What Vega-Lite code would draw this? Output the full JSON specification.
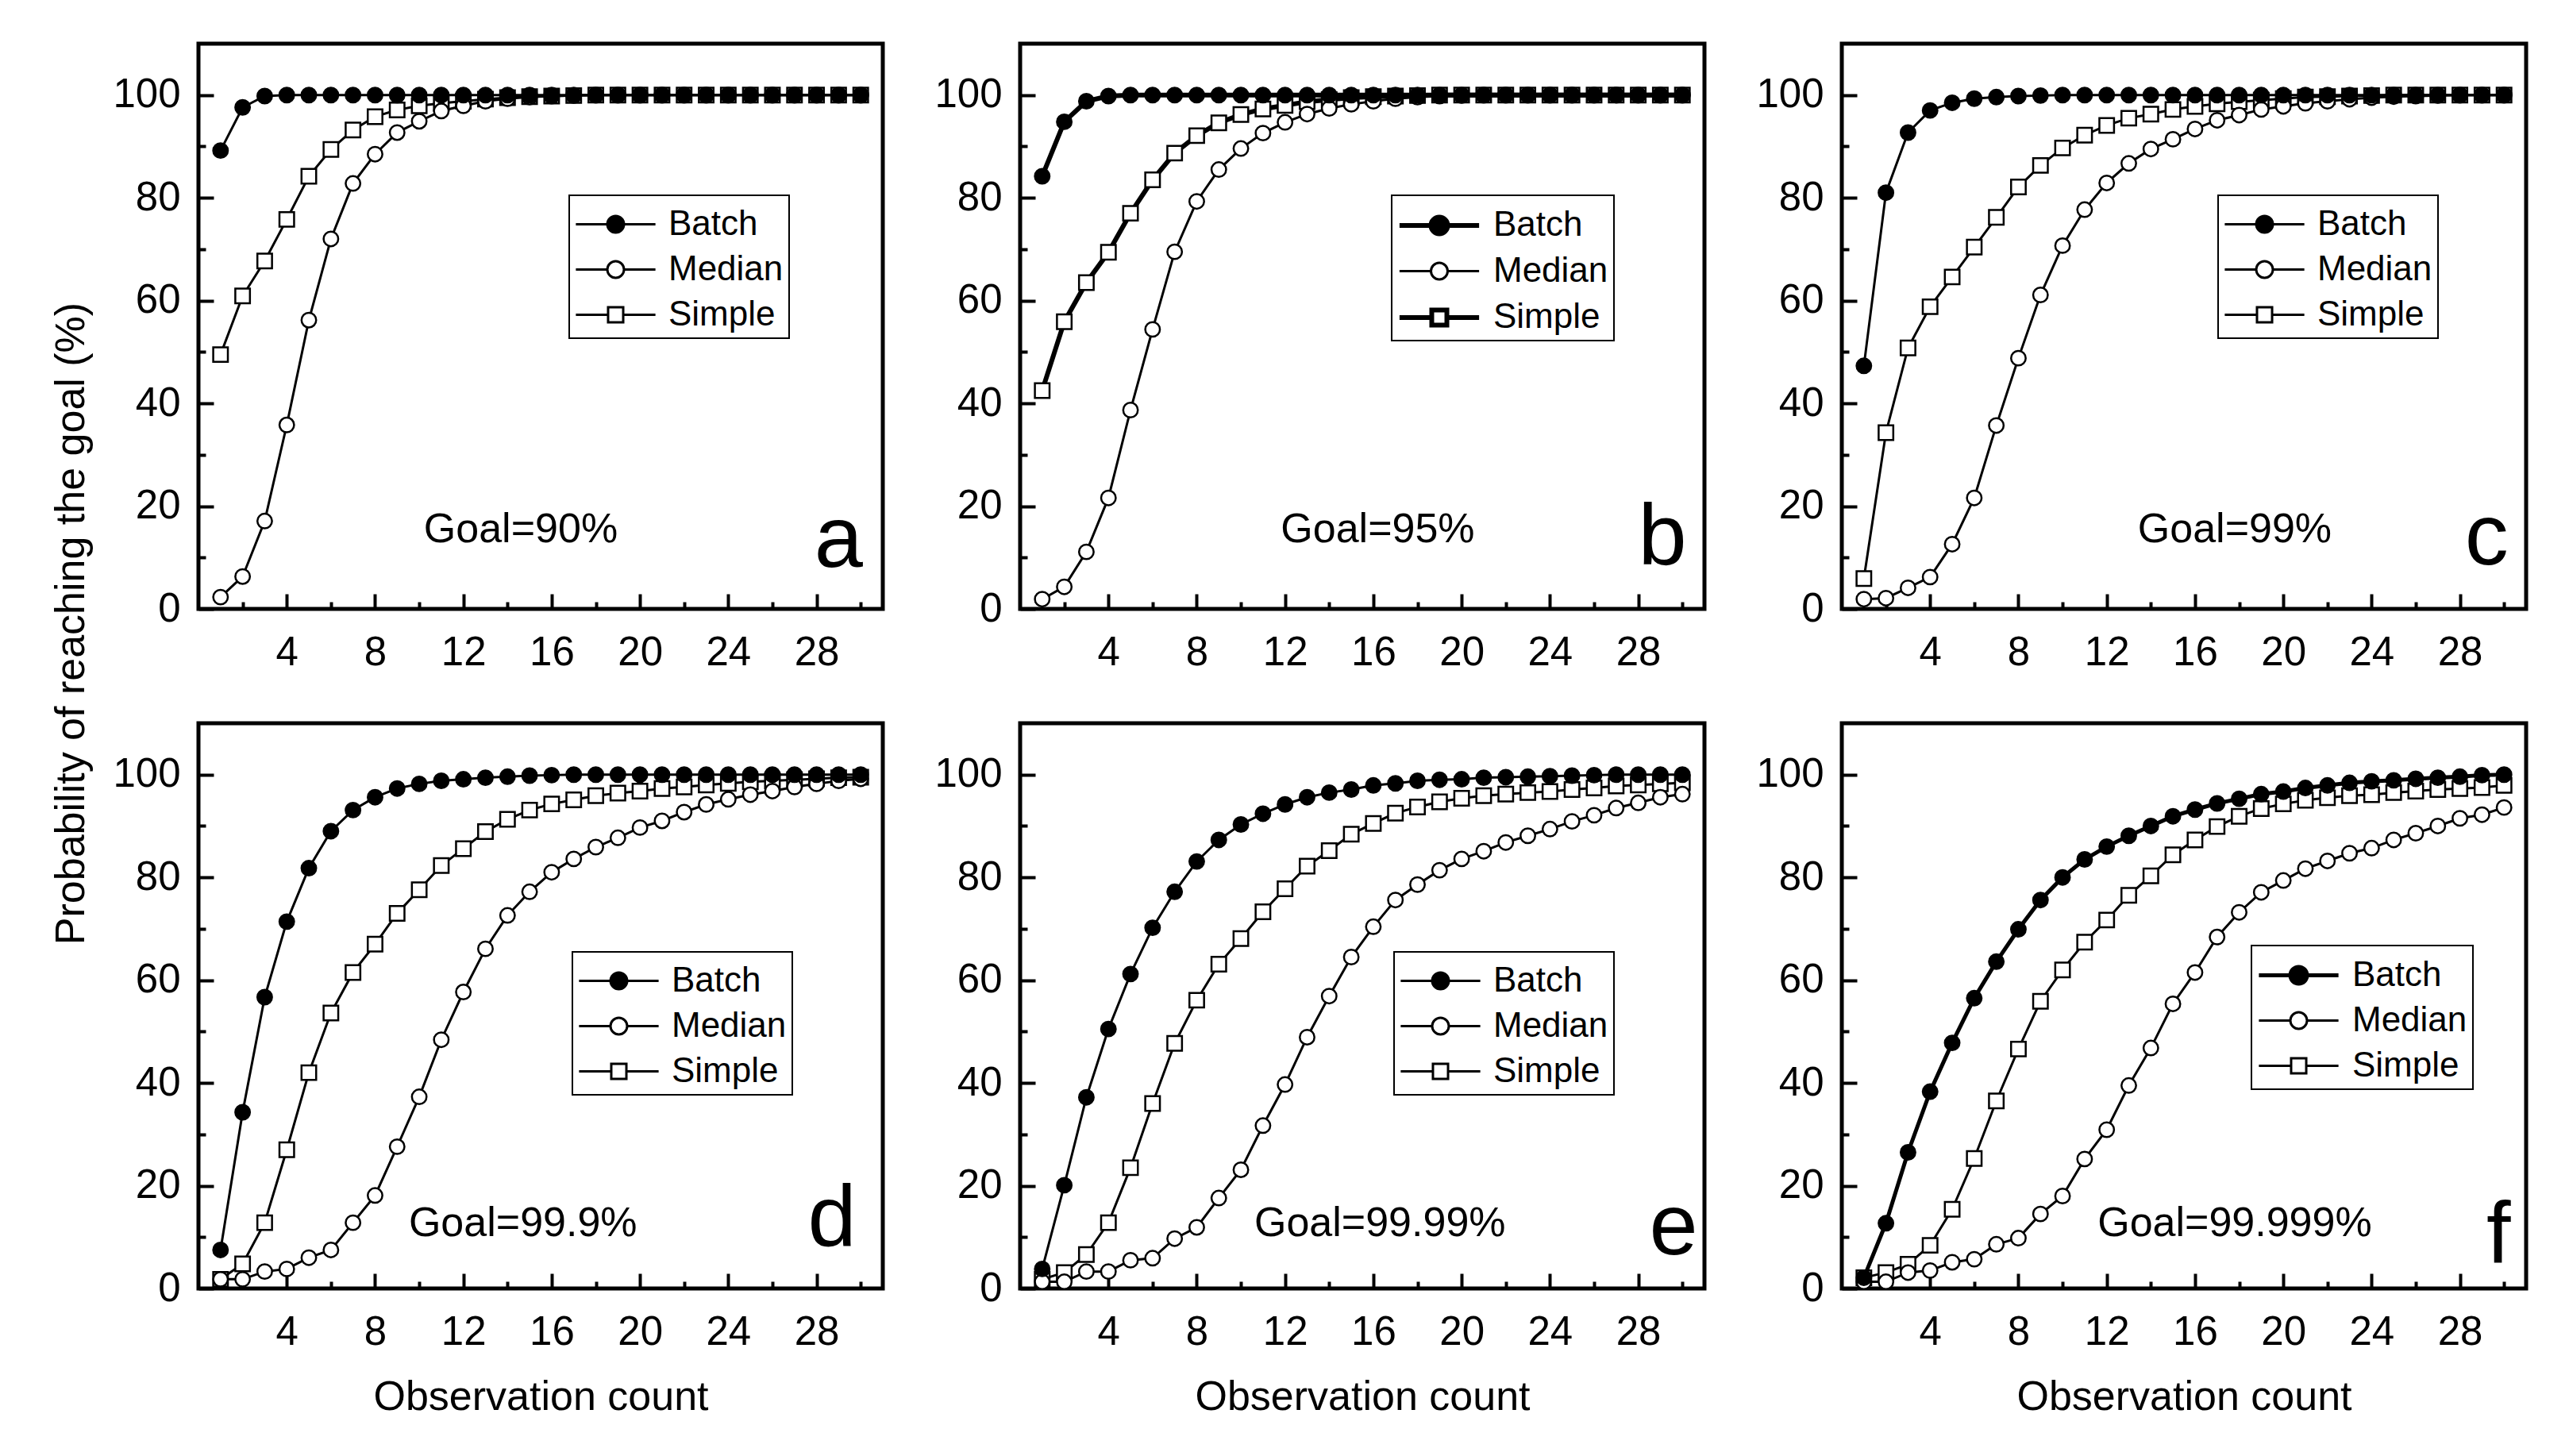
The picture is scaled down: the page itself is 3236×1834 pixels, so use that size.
{
"$schema": "https://vega.github.io/schema/vega-lite/v6.json",
"background": "white",
"padding": {"left": 60, "top": 52, "right": 0, "bottom": 0},
"datasets": {
"meta": [
{"panel":"a","goal":"Goal=90%"},{"panel":"b","goal":"Goal=95%"},{"panel":"c","goal":"Goal=99%"},
{"panel":"d","goal":"Goal=99.9%"},{"panel":"e","goal":"Goal=99.99%"},{"panel":"f","goal":"Goal=99.999%"}
],
"curves": [
{"panel":"a","n":1,"Batch":89.2,"Median":2.3,"Simple":49.5},
{"panel":"a","n":2,"Batch":97.6,"Median":6.3,"Simple":60.9},
{"panel":"a","n":3,"Batch":99.8,"Median":17.1,"Simple":67.7},
{"panel":"a","n":4,"Batch":100,"Median":35.8,"Simple":75.8},
{"panel":"a","n":5,"Batch":100,"Median":56.2,"Simple":84.2},
{"panel":"a","n":6,"Batch":100,"Median":72.0,"Simple":89.4},
{"panel":"a","n":7,"Batch":100,"Median":82.8,"Simple":93.2},
{"panel":"a","n":8,"Batch":100,"Median":88.5,"Simple":95.8},
{"panel":"a","n":9,"Batch":100,"Median":92.7,"Simple":97.1},
{"panel":"a","n":10,"Batch":100,"Median":94.9,"Simple":97.9},
{"panel":"a","n":11,"Batch":100,"Median":96.9,"Simple":98.4},
{"panel":"a","n":12,"Batch":100,"Median":97.9,"Simple":98.8},
{"panel":"a","n":13,"Batch":100,"Median":98.8,"Simple":99.2},
{"panel":"a","n":14,"Batch":100,"Median":99.3,"Simple":99.5},
{"panel":"a","n":15,"Batch":100,"Median":99.6,"Simple":99.7},
{"panel":"a","n":16,"Batch":100,"Median":99.8,"Simple":99.8},
{"panel":"a","n":17,"Batch":100,"Median":99.9,"Simple":99.9},
{"panel":"a","n":18,"Batch":100,"Median":100,"Simple":100},
{"panel":"a","n":19,"Batch":100,"Median":100,"Simple":100},
{"panel":"a","n":20,"Batch":100,"Median":100,"Simple":100},
{"panel":"a","n":21,"Batch":100,"Median":100,"Simple":100},
{"panel":"a","n":22,"Batch":100,"Median":100,"Simple":100},
{"panel":"a","n":23,"Batch":100,"Median":100,"Simple":100},
{"panel":"a","n":24,"Batch":100,"Median":100,"Simple":100},
{"panel":"a","n":25,"Batch":100,"Median":100,"Simple":100},
{"panel":"a","n":26,"Batch":100,"Median":100,"Simple":100},
{"panel":"a","n":27,"Batch":100,"Median":100,"Simple":100},
{"panel":"a","n":28,"Batch":100,"Median":100,"Simple":100},
{"panel":"a","n":29,"Batch":100,"Median":100,"Simple":100},
{"panel":"a","n":30,"Batch":100,"Median":100,"Simple":100},
{"panel":"b","n":1,"Batch":84.2,"Median":1.9,"Simple":42.5},
{"panel":"b","n":2,"Batch":94.8,"Median":4.3,"Simple":55.9},
{"panel":"b","n":3,"Batch":98.8,"Median":11.1,"Simple":63.5},
{"panel":"b","n":4,"Batch":99.8,"Median":21.6,"Simple":69.4},
{"panel":"b","n":5,"Batch":100,"Median":38.7,"Simple":77.0},
{"panel":"b","n":6,"Batch":100,"Median":54.4,"Simple":83.5},
{"panel":"b","n":7,"Batch":100,"Median":69.5,"Simple":88.7},
{"panel":"b","n":8,"Batch":100,"Median":79.3,"Simple":92.1},
{"panel":"b","n":9,"Batch":100,"Median":85.5,"Simple":94.6},
{"panel":"b","n":10,"Batch":100,"Median":89.6,"Simple":96.2},
{"panel":"b","n":11,"Batch":100,"Median":92.6,"Simple":97.3},
{"panel":"b","n":12,"Batch":100,"Median":94.7,"Simple":98.0},
{"panel":"b","n":13,"Batch":100,"Median":96.3,"Simple":98.7},
{"panel":"b","n":14,"Batch":100,"Median":97.4,"Simple":99.1},
{"panel":"b","n":15,"Batch":100,"Median":98.2,"Simple":99.5},
{"panel":"b","n":16,"Batch":100,"Median":98.8,"Simple":99.7},
{"panel":"b","n":17,"Batch":100,"Median":99.3,"Simple":99.8},
{"panel":"b","n":18,"Batch":100,"Median":99.6,"Simple":99.9},
{"panel":"b","n":19,"Batch":100,"Median":99.8,"Simple":100},
{"panel":"b","n":20,"Batch":100,"Median":99.9,"Simple":100},
{"panel":"b","n":21,"Batch":100,"Median":100,"Simple":100},
{"panel":"b","n":22,"Batch":100,"Median":100,"Simple":100},
{"panel":"b","n":23,"Batch":100,"Median":100,"Simple":100},
{"panel":"b","n":24,"Batch":100,"Median":100,"Simple":100},
{"panel":"b","n":25,"Batch":100,"Median":100,"Simple":100},
{"panel":"b","n":26,"Batch":100,"Median":100,"Simple":100},
{"panel":"b","n":27,"Batch":100,"Median":100,"Simple":100},
{"panel":"b","n":28,"Batch":100,"Median":100,"Simple":100},
{"panel":"b","n":29,"Batch":100,"Median":100,"Simple":100},
{"panel":"b","n":30,"Batch":100,"Median":100,"Simple":100},
{"panel":"c","n":1,"Batch":47.3,"Median":1.9,"Simple":5.9},
{"panel":"c","n":2,"Batch":81.0,"Median":2.1,"Simple":34.3},
{"panel":"c","n":3,"Batch":92.7,"Median":4.1,"Simple":50.8},
{"panel":"c","n":4,"Batch":97.0,"Median":6.2,"Simple":58.8},
{"panel":"c","n":5,"Batch":98.5,"Median":12.6,"Simple":64.6},
{"panel":"c","n":6,"Batch":99.3,"Median":21.6,"Simple":70.4},
{"panel":"c","n":7,"Batch":99.6,"Median":35.7,"Simple":76.2},
{"panel":"c","n":8,"Batch":99.8,"Median":48.8,"Simple":82.1},
{"panel":"c","n":9,"Batch":99.9,"Median":61.1,"Simple":86.3},
{"panel":"c","n":10,"Batch":100,"Median":70.7,"Simple":89.7},
{"panel":"c","n":11,"Batch":100,"Median":77.7,"Simple":92.2},
{"panel":"c","n":12,"Batch":100,"Median":82.9,"Simple":94.1},
{"panel":"c","n":13,"Batch":100,"Median":86.7,"Simple":95.5},
{"panel":"c","n":14,"Batch":100,"Median":89.5,"Simple":96.3},
{"panel":"c","n":15,"Batch":100,"Median":91.4,"Simple":97.2},
{"panel":"c","n":16,"Batch":100,"Median":93.4,"Simple":97.8},
{"panel":"c","n":17,"Batch":100,"Median":95.1,"Simple":98.3},
{"panel":"c","n":18,"Batch":100,"Median":96.1,"Simple":98.7},
{"panel":"c","n":19,"Batch":100,"Median":97.2,"Simple":99.0},
{"panel":"c","n":20,"Batch":100,"Median":97.8,"Simple":99.3},
{"panel":"c","n":21,"Batch":100,"Median":98.4,"Simple":99.6},
{"panel":"c","n":22,"Batch":100,"Median":98.8,"Simple":99.7},
{"panel":"c","n":23,"Batch":100,"Median":99.2,"Simple":99.8},
{"panel":"c","n":24,"Batch":100,"Median":99.5,"Simple":99.9},
{"panel":"c","n":25,"Batch":100,"Median":99.7,"Simple":100},
{"panel":"c","n":26,"Batch":100,"Median":99.8,"Simple":100},
{"panel":"c","n":27,"Batch":100,"Median":99.9,"Simple":100},
{"panel":"c","n":28,"Batch":100,"Median":100,"Simple":100},
{"panel":"c","n":29,"Batch":100,"Median":100,"Simple":100},
{"panel":"c","n":30,"Batch":100,"Median":100,"Simple":100},
{"panel":"d","n":1,"Batch":7.5,"Median":1.8,"Simple":1.8},
{"panel":"d","n":2,"Batch":34.3,"Median":1.8,"Simple":4.8},
{"panel":"d","n":3,"Batch":56.7,"Median":3.3,"Simple":12.8},
{"panel":"d","n":4,"Batch":71.4,"Median":3.8,"Simple":27.0},
{"panel":"d","n":5,"Batch":81.8,"Median":6.0,"Simple":42.0},
{"panel":"d","n":6,"Batch":89.0,"Median":7.5,"Simple":53.6},
{"panel":"d","n":7,"Batch":93.1,"Median":12.8,"Simple":61.5},
{"panel":"d","n":8,"Batch":95.6,"Median":18.1,"Simple":67.0},
{"panel":"d","n":9,"Batch":97.3,"Median":27.6,"Simple":73.0},
{"panel":"d","n":10,"Batch":98.2,"Median":37.3,"Simple":77.6},
{"panel":"d","n":11,"Batch":98.8,"Median":48.4,"Simple":82.3},
{"panel":"d","n":12,"Batch":99.1,"Median":57.7,"Simple":85.6},
{"panel":"d","n":13,"Batch":99.4,"Median":66.1,"Simple":88.9},
{"panel":"d","n":14,"Batch":99.6,"Median":72.6,"Simple":91.3},
{"panel":"d","n":15,"Batch":99.8,"Median":77.2,"Simple":93.1},
{"panel":"d","n":16,"Batch":99.9,"Median":81.0,"Simple":94.3},
{"panel":"d","n":17,"Batch":100,"Median":83.6,"Simple":95.1},
{"panel":"d","n":18,"Batch":100,"Median":85.9,"Simple":95.9},
{"panel":"d","n":19,"Batch":100,"Median":87.7,"Simple":96.4},
{"panel":"d","n":20,"Batch":100,"Median":89.7,"Simple":96.8},
{"panel":"d","n":21,"Batch":100,"Median":91.0,"Simple":97.3},
{"panel":"d","n":22,"Batch":100,"Median":92.7,"Simple":97.6},
{"panel":"d","n":23,"Batch":100,"Median":94.2,"Simple":98.0},
{"panel":"d","n":24,"Batch":100,"Median":95.2,"Simple":98.3},
{"panel":"d","n":25,"Batch":100,"Median":96.1,"Simple":98.6},
{"panel":"d","n":26,"Batch":100,"Median":96.8,"Simple":98.8},
{"panel":"d","n":27,"Batch":100,"Median":97.6,"Simple":99.0},
{"panel":"d","n":28,"Batch":100,"Median":98.2,"Simple":99.2},
{"panel":"d","n":29,"Batch":100,"Median":98.8,"Simple":99.4},
{"panel":"d","n":30,"Batch":100,"Median":99.2,"Simple":99.5},
{"panel":"e","n":1,"Batch":3.8,"Median":1.3,"Simple":1.8},
{"panel":"e","n":2,"Batch":20.1,"Median":1.3,"Simple":3.1},
{"panel":"e","n":3,"Batch":37.2,"Median":3.3,"Simple":6.6},
{"panel":"e","n":4,"Batch":50.5,"Median":3.3,"Simple":12.8},
{"panel":"e","n":5,"Batch":61.2,"Median":5.5,"Simple":23.5},
{"panel":"e","n":6,"Batch":70.2,"Median":5.9,"Simple":36.0},
{"panel":"e","n":7,"Batch":77.2,"Median":9.7,"Simple":47.7},
{"panel":"e","n":8,"Batch":83.1,"Median":11.9,"Simple":56.1},
{"panel":"e","n":9,"Batch":87.3,"Median":17.6,"Simple":63.1},
{"panel":"e","n":10,"Batch":90.3,"Median":23.1,"Simple":68.1},
{"panel":"e","n":11,"Batch":92.4,"Median":31.7,"Simple":73.3},
{"panel":"e","n":12,"Batch":94.2,"Median":39.7,"Simple":77.8},
{"panel":"e","n":13,"Batch":95.6,"Median":48.9,"Simple":82.2},
{"panel":"e","n":14,"Batch":96.5,"Median":56.9,"Simple":85.2},
{"panel":"e","n":15,"Batch":97.1,"Median":64.5,"Simple":88.4},
{"panel":"e","n":16,"Batch":97.9,"Median":70.4,"Simple":90.5},
{"panel":"e","n":17,"Batch":98.3,"Median":75.6,"Simple":92.5},
{"panel":"e","n":18,"Batch":98.8,"Median":78.6,"Simple":93.7},
{"panel":"e","n":19,"Batch":99.0,"Median":81.4,"Simple":94.7},
{"panel":"e","n":20,"Batch":99.1,"Median":83.6,"Simple":95.4},
{"panel":"e","n":21,"Batch":99.4,"Median":85.1,"Simple":95.9},
{"panel":"e","n":22,"Batch":99.5,"Median":86.8,"Simple":96.2},
{"panel":"e","n":23,"Batch":99.6,"Median":88.1,"Simple":96.5},
{"panel":"e","n":24,"Batch":99.7,"Median":89.4,"Simple":96.7},
{"panel":"e","n":25,"Batch":99.8,"Median":90.9,"Simple":97.1},
{"panel":"e","n":26,"Batch":99.9,"Median":92.1,"Simple":97.4},
{"panel":"e","n":27,"Batch":100,"Median":93.5,"Simple":97.8},
{"panel":"e","n":28,"Batch":100,"Median":94.5,"Simple":98.0},
{"panel":"e","n":29,"Batch":100,"Median":95.6,"Simple":98.2},
{"panel":"e","n":30,"Batch":100,"Median":96.2,"Simple":98.4},
{"panel":"f","n":1,"Batch":2.1,"Median":1.3,"Simple":2.1},
{"panel":"f","n":2,"Batch":12.7,"Median":1.3,"Simple":3.1},
{"panel":"f","n":3,"Batch":26.5,"Median":3.1,"Simple":4.7},
{"panel":"f","n":4,"Batch":38.3,"Median":3.5,"Simple":8.4},
{"panel":"f","n":5,"Batch":47.8,"Median":5.1,"Simple":15.4},
{"panel":"f","n":6,"Batch":56.5,"Median":5.7,"Simple":25.3},
{"panel":"f","n":7,"Batch":63.6,"Median":8.6,"Simple":36.5},
{"panel":"f","n":8,"Batch":69.9,"Median":9.8,"Simple":46.6},
{"panel":"f","n":9,"Batch":75.6,"Median":14.5,"Simple":55.9},
{"panel":"f","n":10,"Batch":80.0,"Median":18.0,"Simple":62.0},
{"panel":"f","n":11,"Batch":83.5,"Median":25.2,"Simple":67.4},
{"panel":"f","n":12,"Batch":86.0,"Median":30.9,"Simple":71.7},
{"panel":"f","n":13,"Batch":88.1,"Median":39.5,"Simple":76.5},
{"panel":"f","n":14,"Batch":90.0,"Median":46.8,"Simple":80.3},
{"panel":"f","n":15,"Batch":91.9,"Median":55.4,"Simple":84.4},
{"panel":"f","n":16,"Batch":93.2,"Median":61.5,"Simple":87.3},
{"panel":"f","n":17,"Batch":94.4,"Median":68.4,"Simple":89.9},
{"panel":"f","n":18,"Batch":95.3,"Median":73.2,"Simple":91.9},
{"panel":"f","n":19,"Batch":96.2,"Median":77.1,"Simple":93.4},
{"panel":"f","n":20,"Batch":96.7,"Median":79.4,"Simple":94.3},
{"panel":"f","n":21,"Batch":97.4,"Median":81.7,"Simple":95.0},
{"panel":"f","n":22,"Batch":97.9,"Median":83.2,"Simple":95.5},
{"panel":"f","n":23,"Batch":98.4,"Median":84.7,"Simple":95.9},
{"panel":"f","n":24,"Batch":98.7,"Median":85.7,"Simple":96.1},
{"panel":"f","n":25,"Batch":98.9,"Median":87.3,"Simple":96.5},
{"panel":"f","n":26,"Batch":99.2,"Median":88.6,"Simple":96.8},
{"panel":"f","n":27,"Batch":99.4,"Median":90.0,"Simple":97.1},
{"panel":"f","n":28,"Batch":99.6,"Median":91.5,"Simple":97.3},
{"panel":"f","n":29,"Batch":99.9,"Median":92.2,"Simple":97.5},
{"panel":"f","n":30,"Batch":100,"Median":93.6,"Simple":97.9}
]
},
"columns": 3,
"spacing": {"row": 144, "column": 173},
"bounds": "flush",
"resolve": {"scale": {"shape": "independent", "fill": "independent", "stroke": "independent", "strokeWidth": "independent"}, "legend": {"shape": "independent", "fill": "independent", "stroke": "independent", "strokeWidth": "independent"}},
"concat": [
{
"width": 862, "height": 712,
"resolve": {"axis": {"x": "independent", "y": "independent"}, "scale": {"shape": "independent", "fill": "independent", "stroke": "independent"}},
"layer": [
{"data": {"name": "curves"}, "transform": [{"filter": "datum.panel === 'a' && datum.n === 1"}, {"fold": ["Batch","Median","Simple"], "as": ["series","p"]}],
 "mark": {"type": "point", "filled": true, "opacity": 0, "strokeWidth": 3},
 "encoding": {
  "x": {"field": "n", "type": "quantitative", "axis": null},
  "y": {"field": "p", "type": "quantitative", "axis": null},
  "shape": {"field": "series", "type": "nominal", "scale": {"domain": ["Batch","Median","Simple"], "range": ["M-1.79,0H-0.375M0.375,0H1.79M-0.375,0A0.375,0.375,0,1,1,0.375,0A0.375,0.375,0,1,1,-0.375,0Z", "M-1.79,0H-0.375M0.375,0H1.79M-0.375,0A0.375,0.375,0,1,1,0.375,0A0.375,0.375,0,1,1,-0.375,0Z", "M-1.79,0H-0.34M0.34,0H1.79M-0.34,-0.34H0.34V0.34H-0.34Z"]},
   "legend": {"orient": "none", "legendX": 467, "legendY": 191, "title": null, "symbolSize": 3136, "symbolStrokeWidth": 3, "symbolOffset": 22, "labelOffset": 37, "padding": 7, "rowPadding": 5, "fillColor": "white", "strokeColor": "black", "symbolOpacity": 1}},
  "fill": {"field": "series", "type": "nominal", "scale": {"domain": ["Batch","Median","Simple"], "range": ["black","white","white"]},
   "legend": {"orient": "none", "legendX": 467, "legendY": 191, "title": null, "symbolSize": 3136, "symbolStrokeWidth": 3, "symbolOffset": 22, "labelOffset": 37, "padding": 7, "rowPadding": 5, "fillColor": "white", "strokeColor": "black", "symbolOpacity": 1}},
  "stroke": {"field": "series", "type": "nominal", "scale": {"domain": ["Batch","Median","Simple"], "range": ["black","black","black"]},
   "legend": {"orient": "none", "legendX": 467, "legendY": 191, "title": null, "symbolSize": 3136, "symbolStrokeWidth": 3, "symbolOffset": 22, "labelOffset": 37, "padding": 7, "rowPadding": 5, "fillColor": "white", "strokeColor": "black", "symbolOpacity": 1}}}},
{"data": {"name": "curves"}, "transform": [{"filter": "datum.panel === 'a'"}, {"fold": ["Batch","Median","Simple"], "as": ["series","p"]}],
 "mark": {"type": "line", "color": "black", "strokeWidth": 3},
 "encoding": {
  "x": {"field": "n", "type": "quantitative", "scale": {"domain": [0,31], "nice": false, "zero": false}, "axis": {"orient": "bottom", "values": [4,8,12,16,20,24,28], "tickSize": -19, "labelPadding": 49, "title": null}},
  "y": {"field": "p", "type": "quantitative", "scale": {"domain": [0,110], "nice": false}, "axis": {"orient": "left", "values": [0,20,40,60,80,100], "tickSize": -19, "labelPadding": 42, "title": "Probability of reaching the goal (%)", "titleAngle": 270, "titleX": -145, "titleY": 730, "titleAlign": "center", "titleBaseline": "alphabetic"}},
  "detail": {"field": "series"}}},
{"data": {"name": "curves"}, "transform": [{"filter": "datum.panel === 'a'"}, {"fold": ["Batch","Median","Simple"], "as": ["series","p"]}],
 "mark": {"type": "point", "filled": true, "size": 340, "stroke": "black", "strokeWidth": 2.5, "opacity": 1},
 "encoding": {
  "x": {"field": "n", "type": "quantitative", "axis": {"orient": "bottom", "values": [2,6,10,14,18,22,26,30], "tickSize": -9, "labels": false, "title": null}},
  "y": {"field": "p", "type": "quantitative", "axis": {"orient": "left", "values": [10,30,50,70,90], "tickSize": -9, "labels": false, "title": null}},
  "shape": {"field": "series", "type": "nominal", "scale": {"domain": ["Batch","Median","Simple"], "range": ["circle","circle","square"]}, "legend": null},
  "fill": {"field": "series", "type": "nominal", "scale": {"domain": ["Batch","Median","Simple"], "range": ["black","white","white"]}, "legend": null},
  "order": {"field": "series", "sort": "descending"}}},
{"data": {"name": "meta"}, "transform": [{"filter": "datum.panel === 'a'"}],
 "mark": {"type": "text", "fontSize": 52, "align": "center", "baseline": "middle", "color": "black"},
 "encoding": {"x": {"datum": 14.6, "type": "quantitative", "axis": null}, "y": {"datum": 15.5, "type": "quantitative", "axis": null}, "text": {"field": "goal"}}},
{"data": {"name": "meta"}, "transform": [{"filter": "datum.panel === 'a'"}],
 "mark": {"type": "text", "fontSize": 110, "align": "right", "baseline": "alphabetic", "color": "black"},
 "encoding": {"x": {"datum": 30.1, "type": "quantitative", "axis": null}, "y": {"datum": 8.2, "type": "quantitative", "axis": null}, "text": {"field": "panel"}}}
]
},
{
"width": 862, "height": 712,
"resolve": {"axis": {"x": "independent", "y": "independent"}, "scale": {"shape": "independent", "fill": "independent", "stroke": "independent", "strokeWidth": "independent"}},
"layer": [
{"data": {"name": "curves"}, "transform": [{"filter": "datum.panel === 'b' && datum.n === 1"}, {"fold": ["Batch","Median","Simple"], "as": ["series","p"]}],
 "mark": {"type": "point", "filled": true, "opacity": 0, "strokeWidth": 3},
 "encoding": {
  "x": {"field": "n", "type": "quantitative", "axis": null},
  "y": {"field": "p", "type": "quantitative", "axis": null},
  "shape": {"field": "series", "type": "nominal", "scale": {"domain": ["Batch","Median","Simple"], "range": ["M-1.79,0H-0.375M0.375,0H1.79M-0.375,0A0.375,0.375,0,1,1,0.375,0A0.375,0.375,0,1,1,-0.375,0Z", "M-1.79,0H-0.375M0.375,0H1.79M-0.375,0A0.375,0.375,0,1,1,0.375,0A0.375,0.375,0,1,1,-0.375,0Z", "M-1.79,0H-0.34M0.34,0H1.79M-0.34,-0.34H0.34V0.34H-0.34Z"]},
   "legend": {"orient": "none", "legendX": 468, "legendY": 191, "title": null, "symbolSize": 3136, "symbolStrokeWidth": 3, "symbolOffset": 22, "labelOffset": 37, "padding": 7, "rowPadding": 5, "fillColor": "white", "strokeColor": "black", "symbolOpacity": 1}},
  "fill": {"field": "series", "type": "nominal", "scale": {"domain": ["Batch","Median","Simple"], "range": ["black","white","white"]},
   "legend": {"orient": "none", "legendX": 468, "legendY": 191, "title": null, "symbolSize": 3136, "symbolStrokeWidth": 3, "symbolOffset": 22, "labelOffset": 37, "padding": 7, "rowPadding": 5, "fillColor": "white", "strokeColor": "black", "symbolOpacity": 1}},
  "stroke": {"field": "series", "type": "nominal", "scale": {"domain": ["Batch","Median","Simple"], "range": ["black","black","black"]},
   "legend": {"orient": "none", "legendX": 468, "legendY": 191, "title": null, "symbolSize": 3136, "symbolStrokeWidth": 3, "symbolOffset": 22, "labelOffset": 37, "padding": 7, "rowPadding": 5, "fillColor": "white", "strokeColor": "black", "symbolOpacity": 1}},
  "strokeWidth": {"field": "series", "type": "nominal", "scale": {"type": "ordinal", "domain": ["Batch","Median","Simple"], "range": [6,3,6]},
   "legend": {"orient": "none", "legendX": 468, "legendY": 191, "title": null, "symbolSize": 3136, "symbolOffset": 22, "labelOffset": 37, "padding": 7, "rowPadding": 5, "fillColor": "white", "strokeColor": "black", "symbolOpacity": 1}}}},
{"data": {"name": "curves"}, "transform": [{"filter": "datum.panel === 'b'"}, {"fold": ["Batch","Median","Simple"], "as": ["series","p"]}],
 "mark": {"type": "line", "color": "black"},
 "encoding": {
  "x": {"field": "n", "type": "quantitative", "scale": {"domain": [0,31], "nice": false, "zero": false}, "axis": {"orient": "bottom", "values": [4,8,12,16,20,24,28], "tickSize": -19, "labelPadding": 49, "title": null}},
  "y": {"field": "p", "type": "quantitative", "scale": {"domain": [0,110], "nice": false}, "axis": {"orient": "left", "values": [0,20,40,60,80,100], "tickSize": -19, "labelPadding": 42, "title": null}},
  "strokeWidth": {"condition": {"test": "datum.series !== 'Median'", "value": 6}, "value": 3},
  "detail": {"field": "series"}}},
{"data": {"name": "curves"}, "transform": [{"filter": "datum.panel === 'b'"}, {"fold": ["Batch","Median","Simple"], "as": ["series","p"]}],
 "mark": {"type": "point", "filled": true, "size": 340, "stroke": "black", "strokeWidth": 2.5, "opacity": 1},
 "encoding": {
  "x": {"field": "n", "type": "quantitative", "axis": {"orient": "bottom", "values": [2,6,10,14,18,22,26,30], "tickSize": -9, "labels": false, "title": null}},
  "y": {"field": "p", "type": "quantitative", "axis": {"orient": "left", "values": [10,30,50,70,90], "tickSize": -9, "labels": false, "title": null}},
  "shape": {"field": "series", "type": "nominal", "scale": {"domain": ["Batch","Median","Simple"], "range": ["circle","circle","square"]}, "legend": null},
  "fill": {"field": "series", "type": "nominal", "scale": {"domain": ["Batch","Median","Simple"], "range": ["black","white","white"]}, "legend": null},
  "order": {"field": "series", "sort": "descending"}}},
{"data": {"name": "meta"}, "transform": [{"filter": "datum.panel === 'b'"}],
 "mark": {"type": "text", "fontSize": 52, "align": "center", "baseline": "middle", "color": "black"},
 "encoding": {"x": {"datum": 16.2, "type": "quantitative", "axis": null}, "y": {"datum": 15.5, "type": "quantitative", "axis": null}, "text": {"field": "goal"}}},
{"data": {"name": "meta"}, "transform": [{"filter": "datum.panel === 'b'"}],
 "mark": {"type": "text", "fontSize": 110, "align": "right", "baseline": "alphabetic", "color": "black"},
 "encoding": {"x": {"datum": 30.2, "type": "quantitative", "axis": null}, "y": {"datum": 8.6, "type": "quantitative", "axis": null}, "text": {"field": "panel"}}}
]
},
{
"width": 862, "height": 712,
"resolve": {"axis": {"x": "independent", "y": "independent"}, "scale": {"shape": "independent", "fill": "independent", "stroke": "independent"}},
"layer": [
{"data": {"name": "curves"}, "transform": [{"filter": "datum.panel === 'c' && datum.n === 1"}, {"fold": ["Batch","Median","Simple"], "as": ["series","p"]}],
 "mark": {"type": "point", "filled": true, "opacity": 0, "strokeWidth": 3},
 "encoding": {
  "x": {"field": "n", "type": "quantitative", "axis": null},
  "y": {"field": "p", "type": "quantitative", "axis": null},
  "shape": {"field": "series", "type": "nominal", "scale": {"domain": ["Batch","Median","Simple"], "range": ["M-1.79,0H-0.375M0.375,0H1.79M-0.375,0A0.375,0.375,0,1,1,0.375,0A0.375,0.375,0,1,1,-0.375,0Z", "M-1.79,0H-0.375M0.375,0H1.79M-0.375,0A0.375,0.375,0,1,1,0.375,0A0.375,0.375,0,1,1,-0.375,0Z", "M-1.79,0H-0.34M0.34,0H1.79M-0.34,-0.34H0.34V0.34H-0.34Z"]},
   "legend": {"orient": "none", "legendX": 474, "legendY": 191, "title": null, "symbolSize": 3136, "symbolStrokeWidth": 3, "symbolOffset": 22, "labelOffset": 37, "padding": 7, "rowPadding": 5, "fillColor": "white", "strokeColor": "black", "symbolOpacity": 1}},
  "fill": {"field": "series", "type": "nominal", "scale": {"domain": ["Batch","Median","Simple"], "range": ["black","white","white"]},
   "legend": {"orient": "none", "legendX": 474, "legendY": 191, "title": null, "symbolSize": 3136, "symbolStrokeWidth": 3, "symbolOffset": 22, "labelOffset": 37, "padding": 7, "rowPadding": 5, "fillColor": "white", "strokeColor": "black", "symbolOpacity": 1}},
  "stroke": {"field": "series", "type": "nominal", "scale": {"domain": ["Batch","Median","Simple"], "range": ["black","black","black"]},
   "legend": {"orient": "none", "legendX": 474, "legendY": 191, "title": null, "symbolSize": 3136, "symbolStrokeWidth": 3, "symbolOffset": 22, "labelOffset": 37, "padding": 7, "rowPadding": 5, "fillColor": "white", "strokeColor": "black", "symbolOpacity": 1}}}},
{"data": {"name": "curves"}, "transform": [{"filter": "datum.panel === 'c'"}, {"fold": ["Batch","Median","Simple"], "as": ["series","p"]}],
 "mark": {"type": "line", "color": "black", "strokeWidth": 3},
 "encoding": {
  "x": {"field": "n", "type": "quantitative", "scale": {"domain": [0,31], "nice": false, "zero": false}, "axis": {"orient": "bottom", "values": [4,8,12,16,20,24,28], "tickSize": -19, "labelPadding": 49, "title": null}},
  "y": {"field": "p", "type": "quantitative", "scale": {"domain": [0,110], "nice": false}, "axis": {"orient": "left", "values": [0,20,40,60,80,100], "tickSize": -19, "labelPadding": 42, "title": null}},
  "detail": {"field": "series"}}},
{"data": {"name": "curves"}, "transform": [{"filter": "datum.panel === 'c'"}, {"fold": ["Batch","Median","Simple"], "as": ["series","p"]}],
 "mark": {"type": "point", "filled": true, "size": 340, "stroke": "black", "strokeWidth": 2.5, "opacity": 1},
 "encoding": {
  "x": {"field": "n", "type": "quantitative", "axis": {"orient": "bottom", "values": [2,6,10,14,18,22,26,30], "tickSize": -9, "labels": false, "title": null}},
  "y": {"field": "p", "type": "quantitative", "axis": {"orient": "left", "values": [10,30,50,70,90], "tickSize": -9, "labels": false, "title": null}},
  "shape": {"field": "series", "type": "nominal", "scale": {"domain": ["Batch","Median","Simple"], "range": ["circle","circle","square"]}, "legend": null},
  "fill": {"field": "series", "type": "nominal", "scale": {"domain": ["Batch","Median","Simple"], "range": ["black","white","white"]}, "legend": null},
  "order": {"field": "series", "sort": "descending"}}},
{"data": {"name": "meta"}, "transform": [{"filter": "datum.panel === 'c'"}],
 "mark": {"type": "text", "fontSize": 52, "align": "center", "baseline": "middle", "color": "black"},
 "encoding": {"x": {"datum": 17.8, "type": "quantitative", "axis": null}, "y": {"datum": 15.5, "type": "quantitative", "axis": null}, "text": {"field": "goal"}}},
{"data": {"name": "meta"}, "transform": [{"filter": "datum.panel === 'c'"}],
 "mark": {"type": "text", "fontSize": 110, "align": "right", "baseline": "alphabetic", "color": "black"},
 "encoding": {"x": {"datum": 30.2, "type": "quantitative", "axis": null}, "y": {"datum": 8.6, "type": "quantitative", "axis": null}, "text": {"field": "panel"}}}
]
},
{
"width": 862, "height": 712,
"resolve": {"axis": {"x": "independent", "y": "independent"}, "scale": {"shape": "independent", "fill": "independent", "stroke": "independent"}},
"layer": [
{"data": {"name": "curves"}, "transform": [{"filter": "datum.panel === 'd' && datum.n === 1"}, {"fold": ["Batch","Median","Simple"], "as": ["series","p"]}],
 "mark": {"type": "point", "filled": true, "opacity": 0, "strokeWidth": 3},
 "encoding": {
  "x": {"field": "n", "type": "quantitative", "axis": null},
  "y": {"field": "p", "type": "quantitative", "axis": null},
  "shape": {"field": "series", "type": "nominal", "scale": {"domain": ["Batch","Median","Simple"], "range": ["M-1.79,0H-0.375M0.375,0H1.79M-0.375,0A0.375,0.375,0,1,1,0.375,0A0.375,0.375,0,1,1,-0.375,0Z", "M-1.79,0H-0.375M0.375,0H1.79M-0.375,0A0.375,0.375,0,1,1,0.375,0A0.375,0.375,0,1,1,-0.375,0Z", "M-1.79,0H-0.34M0.34,0H1.79M-0.34,-0.34H0.34V0.34H-0.34Z"]},
   "legend": {"orient": "none", "legendX": 471, "legendY": 288, "title": null, "symbolSize": 3136, "symbolStrokeWidth": 3, "symbolOffset": 22, "labelOffset": 37, "padding": 7, "rowPadding": 5, "fillColor": "white", "strokeColor": "black", "symbolOpacity": 1}},
  "fill": {"field": "series", "type": "nominal", "scale": {"domain": ["Batch","Median","Simple"], "range": ["black","white","white"]},
   "legend": {"orient": "none", "legendX": 471, "legendY": 288, "title": null, "symbolSize": 3136, "symbolStrokeWidth": 3, "symbolOffset": 22, "labelOffset": 37, "padding": 7, "rowPadding": 5, "fillColor": "white", "strokeColor": "black", "symbolOpacity": 1}},
  "stroke": {"field": "series", "type": "nominal", "scale": {"domain": ["Batch","Median","Simple"], "range": ["black","black","black"]},
   "legend": {"orient": "none", "legendX": 471, "legendY": 288, "title": null, "symbolSize": 3136, "symbolStrokeWidth": 3, "symbolOffset": 22, "labelOffset": 37, "padding": 7, "rowPadding": 5, "fillColor": "white", "strokeColor": "black", "symbolOpacity": 1}}}},
{"data": {"name": "curves"}, "transform": [{"filter": "datum.panel === 'd'"}, {"fold": ["Batch","Median","Simple"], "as": ["series","p"]}],
 "mark": {"type": "line", "color": "black", "strokeWidth": 3},
 "encoding": {
  "x": {"field": "n", "type": "quantitative", "scale": {"domain": [0,31], "nice": false, "zero": false}, "axis": {"orient": "bottom", "values": [4,8,12,16,20,24,28], "tickSize": -19, "labelPadding": 49, "title": "Observation count", "titlePadding": 31}},
  "y": {"field": "p", "type": "quantitative", "scale": {"domain": [0,110], "nice": false}, "axis": {"orient": "left", "values": [0,20,40,60,80,100], "tickSize": -19, "labelPadding": 42, "title": null}},
  "detail": {"field": "series"}}},
{"data": {"name": "curves"}, "transform": [{"filter": "datum.panel === 'd'"}, {"fold": ["Batch","Median","Simple"], "as": ["series","p"]}],
 "mark": {"type": "point", "filled": true, "size": 340, "stroke": "black", "strokeWidth": 2.5, "opacity": 1},
 "encoding": {
  "x": {"field": "n", "type": "quantitative", "axis": {"orient": "bottom", "values": [2,6,10,14,18,22,26,30], "tickSize": -9, "labels": false, "title": null}},
  "y": {"field": "p", "type": "quantitative", "axis": {"orient": "left", "values": [10,30,50,70,90], "tickSize": -9, "labels": false, "title": null}},
  "shape": {"field": "series", "type": "nominal", "scale": {"domain": ["Batch","Median","Simple"], "range": ["circle","circle","square"]}, "legend": null},
  "fill": {"field": "series", "type": "nominal", "scale": {"domain": ["Batch","Median","Simple"], "range": ["black","white","white"]}, "legend": null},
  "order": {"field": "series", "sort": "descending"}}},
{"data": {"name": "meta"}, "transform": [{"filter": "datum.panel === 'd'"}],
 "mark": {"type": "text", "fontSize": 52, "align": "center", "baseline": "middle", "color": "black"},
 "encoding": {"x": {"datum": 14.7, "type": "quantitative", "axis": null}, "y": {"datum": 12.6, "type": "quantitative", "axis": null}, "text": {"field": "goal"}}},
{"data": {"name": "meta"}, "transform": [{"filter": "datum.panel === 'd'"}],
 "mark": {"type": "text", "fontSize": 110, "align": "right", "baseline": "alphabetic", "color": "black"},
 "encoding": {"x": {"datum": 29.8, "type": "quantitative", "axis": null}, "y": {"datum": 8.3, "type": "quantitative", "axis": null}, "text": {"field": "panel"}}}
]
},
{
"width": 862, "height": 712,
"resolve": {"axis": {"x": "independent", "y": "independent"}, "scale": {"shape": "independent", "fill": "independent", "stroke": "independent"}},
"layer": [
{"data": {"name": "curves"}, "transform": [{"filter": "datum.panel === 'e' && datum.n === 1"}, {"fold": ["Batch","Median","Simple"], "as": ["series","p"]}],
 "mark": {"type": "point", "filled": true, "opacity": 0, "strokeWidth": 3},
 "encoding": {
  "x": {"field": "n", "type": "quantitative", "axis": null},
  "y": {"field": "p", "type": "quantitative", "axis": null},
  "shape": {"field": "series", "type": "nominal", "scale": {"domain": ["Batch","Median","Simple"], "range": ["M-1.79,0H-0.375M0.375,0H1.79M-0.375,0A0.375,0.375,0,1,1,0.375,0A0.375,0.375,0,1,1,-0.375,0Z", "M-1.79,0H-0.375M0.375,0H1.79M-0.375,0A0.375,0.375,0,1,1,0.375,0A0.375,0.375,0,1,1,-0.375,0Z", "M-1.79,0H-0.34M0.34,0H1.79M-0.34,-0.34H0.34V0.34H-0.34Z"]},
   "legend": {"orient": "none", "legendX": 471, "legendY": 288, "title": null, "symbolSize": 3136, "symbolStrokeWidth": 3, "symbolOffset": 22, "labelOffset": 37, "padding": 7, "rowPadding": 5, "fillColor": "white", "strokeColor": "black", "symbolOpacity": 1}},
  "fill": {"field": "series", "type": "nominal", "scale": {"domain": ["Batch","Median","Simple"], "range": ["black","white","white"]},
   "legend": {"orient": "none", "legendX": 471, "legendY": 288, "title": null, "symbolSize": 3136, "symbolStrokeWidth": 3, "symbolOffset": 22, "labelOffset": 37, "padding": 7, "rowPadding": 5, "fillColor": "white", "strokeColor": "black", "symbolOpacity": 1}},
  "stroke": {"field": "series", "type": "nominal", "scale": {"domain": ["Batch","Median","Simple"], "range": ["black","black","black"]},
   "legend": {"orient": "none", "legendX": 471, "legendY": 288, "title": null, "symbolSize": 3136, "symbolStrokeWidth": 3, "symbolOffset": 22, "labelOffset": 37, "padding": 7, "rowPadding": 5, "fillColor": "white", "strokeColor": "black", "symbolOpacity": 1}}}},
{"data": {"name": "curves"}, "transform": [{"filter": "datum.panel === 'e'"}, {"fold": ["Batch","Median","Simple"], "as": ["series","p"]}],
 "mark": {"type": "line", "color": "black", "strokeWidth": 3},
 "encoding": {
  "x": {"field": "n", "type": "quantitative", "scale": {"domain": [0,31], "nice": false, "zero": false}, "axis": {"orient": "bottom", "values": [4,8,12,16,20,24,28], "tickSize": -19, "labelPadding": 49, "title": "Observation count", "titlePadding": 31}},
  "y": {"field": "p", "type": "quantitative", "scale": {"domain": [0,110], "nice": false}, "axis": {"orient": "left", "values": [0,20,40,60,80,100], "tickSize": -19, "labelPadding": 42, "title": null}},
  "detail": {"field": "series"}}},
{"data": {"name": "curves"}, "transform": [{"filter": "datum.panel === 'e'"}, {"fold": ["Batch","Median","Simple"], "as": ["series","p"]}],
 "mark": {"type": "point", "filled": true, "size": 340, "stroke": "black", "strokeWidth": 2.5, "opacity": 1},
 "encoding": {
  "x": {"field": "n", "type": "quantitative", "axis": {"orient": "bottom", "values": [2,6,10,14,18,22,26,30], "tickSize": -9, "labels": false, "title": null}},
  "y": {"field": "p", "type": "quantitative", "axis": {"orient": "left", "values": [10,30,50,70,90], "tickSize": -9, "labels": false, "title": null}},
  "shape": {"field": "series", "type": "nominal", "scale": {"domain": ["Batch","Median","Simple"], "range": ["circle","circle","square"]}, "legend": null},
  "fill": {"field": "series", "type": "nominal", "scale": {"domain": ["Batch","Median","Simple"], "range": ["black","white","white"]}, "legend": null},
  "order": {"field": "series", "sort": "descending"}}},
{"data": {"name": "meta"}, "transform": [{"filter": "datum.panel === 'e'"}],
 "mark": {"type": "text", "fontSize": 52, "align": "center", "baseline": "middle", "color": "black"},
 "encoding": {"x": {"datum": 16.3, "type": "quantitative", "axis": null}, "y": {"datum": 12.6, "type": "quantitative", "axis": null}, "text": {"field": "goal"}}},
{"data": {"name": "meta"}, "transform": [{"filter": "datum.panel === 'e'"}],
 "mark": {"type": "text", "fontSize": 110, "align": "right", "baseline": "alphabetic", "color": "black"},
 "encoding": {"x": {"datum": 30.7, "type": "quantitative", "axis": null}, "y": {"datum": 6.6, "type": "quantitative", "axis": null}, "text": {"field": "panel"}}}
]
},
{
"width": 862, "height": 712,
"resolve": {"axis": {"x": "independent", "y": "independent"}, "scale": {"shape": "independent", "fill": "independent", "stroke": "independent", "strokeWidth": "independent"}},
"layer": [
{"data": {"name": "curves"}, "transform": [{"filter": "datum.panel === 'f' && datum.n === 1"}, {"fold": ["Batch","Median","Simple"], "as": ["series","p"]}],
 "mark": {"type": "point", "filled": true, "opacity": 0, "strokeWidth": 3},
 "encoding": {
  "x": {"field": "n", "type": "quantitative", "axis": null},
  "y": {"field": "p", "type": "quantitative", "axis": null},
  "shape": {"field": "series", "type": "nominal", "scale": {"domain": ["Batch","Median","Simple"], "range": ["M-1.79,0H-0.375M0.375,0H1.79M-0.375,0A0.375,0.375,0,1,1,0.375,0A0.375,0.375,0,1,1,-0.375,0Z", "M-1.79,0H-0.375M0.375,0H1.79M-0.375,0A0.375,0.375,0,1,1,0.375,0A0.375,0.375,0,1,1,-0.375,0Z", "M-1.79,0H-0.34M0.34,0H1.79M-0.34,-0.34H0.34V0.34H-0.34Z"]},
   "legend": {"orient": "none", "legendX": 516, "legendY": 280, "title": null, "symbolSize": 3136, "symbolStrokeWidth": 3, "symbolOffset": 22, "labelOffset": 37, "padding": 7, "rowPadding": 5, "fillColor": "white", "strokeColor": "black", "symbolOpacity": 1}},
  "fill": {"field": "series", "type": "nominal", "scale": {"domain": ["Batch","Median","Simple"], "range": ["black","white","white"]},
   "legend": {"orient": "none", "legendX": 516, "legendY": 280, "title": null, "symbolSize": 3136, "symbolStrokeWidth": 3, "symbolOffset": 22, "labelOffset": 37, "padding": 7, "rowPadding": 5, "fillColor": "white", "strokeColor": "black", "symbolOpacity": 1}},
  "stroke": {"field": "series", "type": "nominal", "scale": {"domain": ["Batch","Median","Simple"], "range": ["black","black","black"]},
   "legend": {"orient": "none", "legendX": 516, "legendY": 280, "title": null, "symbolSize": 3136, "symbolStrokeWidth": 3, "symbolOffset": 22, "labelOffset": 37, "padding": 7, "rowPadding": 5, "fillColor": "white", "strokeColor": "black", "symbolOpacity": 1}},
  "strokeWidth": {"field": "series", "type": "nominal", "scale": {"type": "ordinal", "domain": ["Batch","Median","Simple"], "range": [5,3,3]},
   "legend": {"orient": "none", "legendX": 516, "legendY": 280, "title": null, "symbolSize": 3136, "symbolOffset": 22, "labelOffset": 37, "padding": 7, "rowPadding": 5, "fillColor": "white", "strokeColor": "black", "symbolOpacity": 1}}}},
{"data": {"name": "curves"}, "transform": [{"filter": "datum.panel === 'f'"}, {"fold": ["Batch","Median","Simple"], "as": ["series","p"]}],
 "mark": {"type": "line", "color": "black"},
 "encoding": {
  "x": {"field": "n", "type": "quantitative", "scale": {"domain": [0,31], "nice": false, "zero": false}, "axis": {"orient": "bottom", "values": [4,8,12,16,20,24,28], "tickSize": -19, "labelPadding": 49, "title": "Observation count", "titlePadding": 31}},
  "y": {"field": "p", "type": "quantitative", "scale": {"domain": [0,110], "nice": false}, "axis": {"orient": "left", "values": [0,20,40,60,80,100], "tickSize": -19, "labelPadding": 42, "title": null}},
  "strokeWidth": {"condition": {"test": "datum.series === 'Batch'", "value": 5}, "value": 3},
  "detail": {"field": "series"}}},
{"data": {"name": "curves"}, "transform": [{"filter": "datum.panel === 'f'"}, {"fold": ["Batch","Median","Simple"], "as": ["series","p"]}],
 "mark": {"type": "point", "filled": true, "size": 340, "stroke": "black", "strokeWidth": 2.5, "opacity": 1},
 "encoding": {
  "x": {"field": "n", "type": "quantitative", "axis": {"orient": "bottom", "values": [2,6,10,14,18,22,26,30], "tickSize": -9, "labels": false, "title": null}},
  "y": {"field": "p", "type": "quantitative", "axis": {"orient": "left", "values": [10,30,50,70,90], "tickSize": -9, "labels": false, "title": null}},
  "shape": {"field": "series", "type": "nominal", "scale": {"domain": ["Batch","Median","Simple"], "range": ["circle","circle","square"]}, "legend": null},
  "fill": {"field": "series", "type": "nominal", "scale": {"domain": ["Batch","Median","Simple"], "range": ["black","white","white"]}, "legend": null},
  "order": {"field": "series", "sort": "descending"}}},
{"data": {"name": "meta"}, "transform": [{"filter": "datum.panel === 'f'"}],
 "mark": {"type": "text", "fontSize": 52, "align": "center", "baseline": "middle", "color": "black"},
 "encoding": {"x": {"datum": 17.8, "type": "quantitative", "axis": null}, "y": {"datum": 12.6, "type": "quantitative", "axis": null}, "text": {"field": "goal"}}},
{"data": {"name": "meta"}, "transform": [{"filter": "datum.panel === 'f'"}],
 "mark": {"type": "text", "fontSize": 110, "align": "right", "baseline": "alphabetic", "color": "black"},
 "encoding": {"x": {"datum": 30.3, "type": "quantitative", "axis": null}, "y": {"datum": 5.1, "type": "quantitative", "axis": null}, "text": {"field": "panel"}}}
]
}
],
"config": {
"font": "Liberation Sans",
"view": {"stroke": "black", "strokeWidth": 5},
"point": {"strokeWidth": 3},
"axis": {"grid": false, "domain": false, "tickColor": "black", "tickWidth": 4, "labelColor": "black", "labelFont": "Liberation Sans", "labelFontSize": 51, "labelOverlap": false, "labelFlush": false, "titleFont": "Liberation Sans", "titleFontSize": 52, "titleFontWeight": "normal", "titleColor": "black"},
"legend": {"labelFont": "Liberation Sans", "labelFontSize": 44, "labelColor": "black", "strokeWidth": 2},
"text": {"font": "Liberation Sans", "color": "black"}
}
}
